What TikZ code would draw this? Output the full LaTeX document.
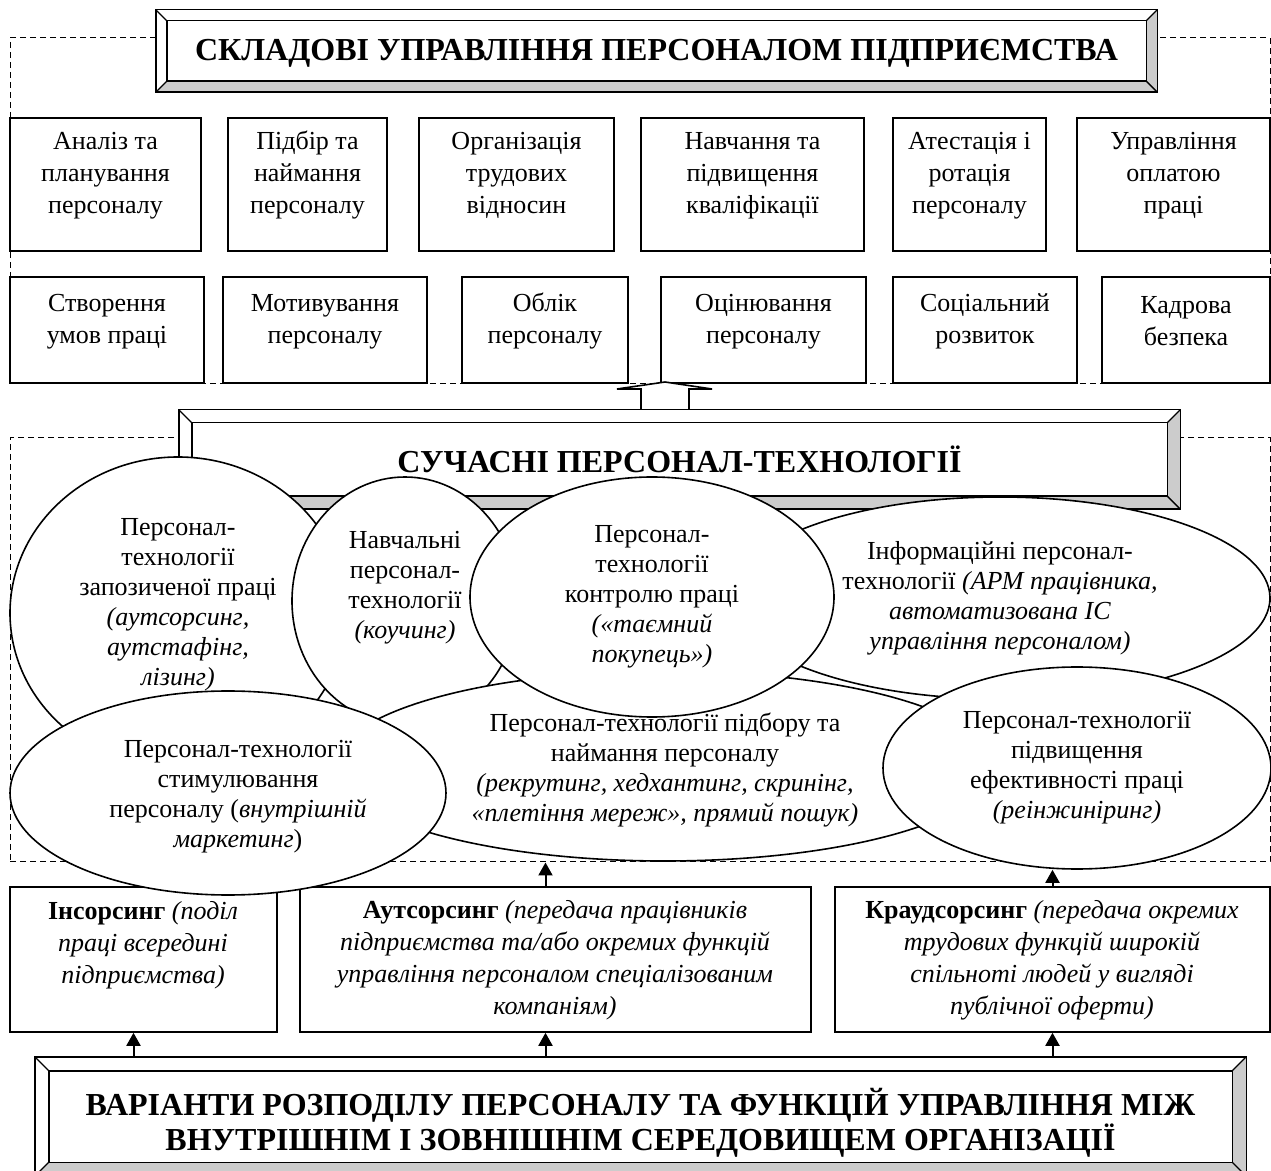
\documentclass[tikz,border=0pt]{standalone}
\usepackage{fontspec}
\setmainfont{Liberation Serif}
\usetikzlibrary{calc,fit,arrows.meta,shapes.geometric,positioning}

\definecolor{bevelgray}{gray}{0.8}

% raised frame round a title node
\newcommand{\bevelframe}[2]{%
  \fill[white] ($(#1.north west)+(-#2,-#2)$) rectangle ($(#1.south east)+(#2,#2)$);
  \fill[bevelgray] ($(#1.south west)+(-#2,#2)$) -- ($(#1.south east)+(#2,#2)$) -- (#1.south east) -- (#1.south west) -- cycle;
  \fill[bevelgray] ($(#1.north east)+(#2,-#2)$) -- ($(#1.south east)+(#2,#2)$) -- (#1.south east) -- (#1.north east) -- cycle;
  \draw[line width=0.9pt] ($(#1.north west)+(-#2,-#2)$) rectangle ($(#1.south east)+(#2,#2)$);
  \draw[line width=0.9pt] (#1.north west) rectangle (#1.south east);
  \draw[line width=0.7pt] (#1.north west) -- ++(-#2,-#2);
  \draw[line width=0.7pt] (#1.north east) -- ++(#2,-#2);
  \draw[line width=0.7pt] (#1.south west) -- ++(-#2,#2);
  \draw[line width=0.7pt] (#1.south east) -- ++(#2,#2);
}

\begin{document}
\begin{tikzpicture}[x=0.5pt,y=-0.5pt]
	\tikzstyle{box}=[draw,line width=0.8pt,fill=white,inner sep=0pt,align=center,font=\fontsize{13}{16}\selectfont]
	\tikzstyle{ell}=[draw,ellipse,line width=0.8pt,fill=white,inner sep=0pt,align=center,font=\fontsize{13}{15}\selectfont]
	\tikzstyle{lbl}=[inner sep=0pt,align=center,font=\fontsize{13}{15}\selectfont]
	\tikzstyle{ttl}=[inner sep=0pt,align=center,font=\fontsize{16}{17.5}\selectfont\bfseries]
	\tikzstyle{frame}=[draw,dash pattern=on 3pt off 2pt,line width=0.5pt,inner sep=0pt]
	\tikzstyle{arr}=[-{Triangle[length=6.5pt,width=7pt]},line width=1pt]
	\tikzstyle{hollow}=[draw,fill=white,line width=0.8pt]

	\useasboundingbox (0,0) rectangle (1271,1171);

	% components
	\node[frame,fit={(10,38) (1270,384)}] (fr1) {};
	\node[ttl,fit={(167,21) (1146,81)}] (t1) {};
	\bevelframe{t1}{11}
	\node[ttl] at ($(t1.center)+(0,2)$) {СКЛАДОВІ УПРАВЛІННЯ ПЕРСОНАЛОМ ПІДПРИЄМСТВА};

	% row 1
	\node[box,fit={(10,118) (201,251)}] (r11) {Аналіз та\\планування\\персоналу};
	\node[box,fit={(228,118) (387,251)}] (r12) {Підбір та\\наймання\\персоналу};
	\node[box,fit={(419,118) (614,251)}] (r13) {Організація\\трудових\\відносин};
	\node[box,fit={(641,118) (864,251)}] (r14) {Навчання та\\підвищення\\кваліфікації};
	\node[box,fit={(893,118) (1046,251)}] (r15) {Атестація і\\ротація\\персоналу};
	\node[box,fit={(1077,118) (1270,251)}] (r16) {Управління\\оплатою\\праці};
	% row 2
	\node[box,fit={(10,277) (204,383)}] (r21) {Створення\\умов праці};
	\node[box,fit={(223,277) (427,383)}] (r22) {Мотивування\\персоналу};
	\node[box,fit={(462,277) (628,383)}] (r23) {Облік\\персоналу};
	\node[box,fit={(661,277) (866,383)}] (r24) {Оцінювання\\персоналу};
	\node[box,fit={(893,277) (1077,383)}] (r25) {Соціальний\\розвиток};
	\node[box,fit={(1102,277) (1270,383)}] (r26) {Кадрова\\безпека};

	% technologies
	\node[frame,fit={(10,438) (1270,862)}] (fr2) {};
	\coordinate (ha) at (665,411);
	\draw[hollow] (ha) ++(-24,0) -- ++(0,-22) -- ++(-24,0) -- ++(48,-7) -- ++(47,7) -- ++(-23,0) -- ++(0,22);
	\node[ttl,fit={(192,423) (1167,496)}] (t2) {};
	\bevelframe{t2}{13}
	\node[ttl] at (t2.center) {СУЧАСНІ ПЕРСОНАЛ-ТЕХНОЛОГІЇ};

	% variants
	\node[box,fit={(10,887) (277,1032)}] (ins) {};
	\node[box,fit={(300,887) (811,1032)}] (aut) {};
	\node[box,fit={(835,887) (1270,1032)}] (kra) {};
	\node[lbl,font=\fontsize{13}{16}\selectfont] (inst) at (143,945) {\textbf{Інсорсинг} \textit{(поділ}\\\textit{праці всередині}\\\textit{підприємства)}};
	\node[lbl,font=\fontsize{13}{16}\selectfont] (autt) at (555,960) {\textbf{Аутсорсинг} \textit{(передача працівників}\\\textit{підприємства та/або окремих функцій}\\\textit{управління персоналом спеціалізованим}\\\textit{компаніям)}};
	\node[lbl,font=\fontsize{13}{16}\selectfont] (krat) at (1052,960) {\textbf{Краудсорсинг} \textit{(передача окремих}\\\textit{трудових функцій широкій}\\\textit{спільноті людей у вигляді}\\\textit{публічної оферти)}};

	\node[ell,minimum width=168pt,minimum height=156pt] (e1) at (178,613) {};
	\node[lbl] (e1t) at (178,605) {Персонал-\\технології\\запозиченої праці\\\textit{(аутсорсинг,}\\\textit{аутстафінг,}\\\textit{лізинг)}};
	\node[ell,minimum width=113pt,minimum height=124pt] (e2) at (405,601) {};
	\node[lbl] (e2t) at (405,588) {Навчальні\\персонал-\\технології\\\textit{(коучинг)}};
	\node[ell,minimum width=270pt,minimum height=101pt] (e4) at (1000,598) {Інформаційні персонал-\\технології \textit{(АРМ працівника,}\\\textit{автоматизована ІС}\\\textit{управління персоналом)}};
	\node[ell,minimum width=330pt,minimum height=95pt] (e5) at (665,766) {};
	\node[lbl] (e5t) at (665,770) {Персонал-технології підбору та\\наймання персоналу\\\textit{(рекрутинг, хедхантинг, скринінг,}\\\textit{«плетіння мереж», прямий пошук)}};
	\node[ell,minimum width=182pt,minimum height=120pt] (e3) at (652,597) {Персонал-\\технології\\контролю праці\\\textit{(«таємний}\\\textit{покупець»)}};
	\node[ell,minimum width=218pt,minimum height=102pt] (e7) at (228,793) {};
	\node[lbl] (e7t) at (238,797) {Персонал-технології\\стимулювання\\персоналу (\textit{внутрішній}\\\textit{маркетинг})};
	\node[ell,minimum width=194pt,minimum height=101pt] (e6) at (1077,768) {Персонал-технології\\підвищення\\ефективності праці\\\textit{(реінжиніринг)}};

	\node[ttl,fit={(49,1071) (1232,1162)}] (t3) {};
	\bevelframe{t3}{14}
	\node[ttl] at ($(t3.center)+(0,6)$) {ВАРІАНТИ РОЗПОДІЛУ ПЕРСОНАЛУ ТА ФУНКЦІЙ УПРАВЛІННЯ МІЖ\\ВНУТРІШНІМ І ЗОВНІШНІМ СЕРЕДОВИЩЕМ ОРГАНІЗАЦІЇ};
	\coordinate (tb) at ($(t3.north)+(0,-15)$);

	% arrows
	\draw[arr] ([xshift=-5pt]ins.south |- tb) -- ([xshift=-5pt]ins.south);
	\draw[arr] ([xshift=-5pt]aut.south |- tb) -- ([xshift=-5pt]aut.south);
	\draw[arr] (kra.south |- tb) -- (kra.south);
	\draw[arr] ([xshift=-5pt]aut.north) -- ([xshift=-5pt]aut.north |- fr2.south);
	\draw[arr] (kra.north) -- (kra.north |- e6.south);
\end{tikzpicture}
\end{document}
